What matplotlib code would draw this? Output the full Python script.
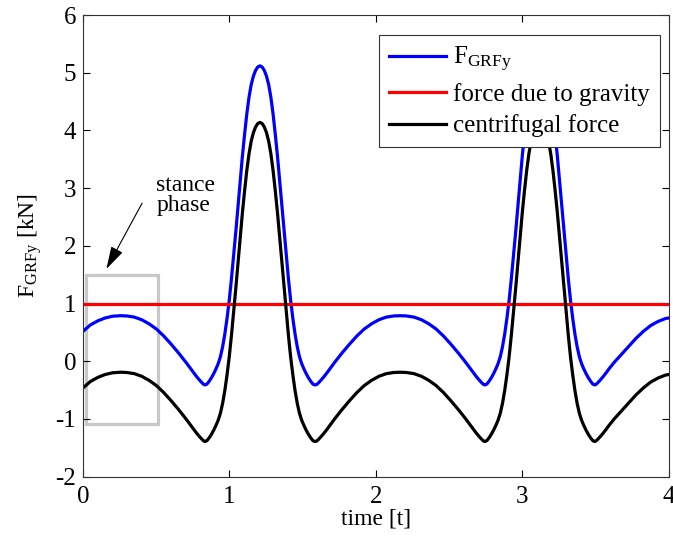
import numpy as np
import matplotlib
matplotlib.use('Agg')
import matplotlib.pyplot as plt
from matplotlib.patches import Rectangle

# values, one block per stretch of the curve
t_a = [0.00, 0.05, 0.10, 0.15, 0.20, 0.255, 0.30, 0.35, 0.40, 0.45, 0.50, 0.55, 0.60, 0.65, 0.70,
       0.735, 0.755, 0.775, 0.795, 0.815, 0.825, 0.833]
t_b = [0.841, 0.848, 0.863, 0.878, 0.893, 0.908, 0.923, 0.938, 0.953, 0.968, 0.983, 0.998, 1.013,
       1.028, 1.043, 1.058, 1.073, 1.088, 1.103, 1.118, 1.133, 1.148, 1.163, 1.178, 1.193, 1.208,
       1.223, 1.238, 1.253, 1.268, 1.283, 1.298, 1.313, 1.328, 1.343, 1.358, 1.373, 1.388, 1.403,
       1.418, 1.433, 1.448, 1.463, 1.478, 1.493, 1.508, 1.523, 1.538, 1.553, 1.568, 1.575, 1.583]
t_c = [1.596, 1.606, 1.626, 1.646, 1.666, 1.686, 1.721, 1.771, 1.821, 1.871, 1.921, 1.971, 2.021,
       2.071, 2.121, 2.166, 2.211, 2.261, 2.311, 2.361, 2.411, 2.461, 2.511, 2.561, 2.611, 2.646,
       2.666, 2.686, 2.706, 2.726, 2.736, 2.743]
t_d = [2.753, 2.760, 2.775, 2.790, 2.805, 2.820, 2.835, 2.850, 2.865, 2.880, 2.895, 2.910, 2.925,
       2.940, 2.955, 2.970, 2.985, 3.000, 3.015, 3.030, 3.045, 3.060, 3.075, 3.090, 3.105, 3.120,
       3.135, 3.150, 3.165, 3.180, 3.195, 3.210, 3.225, 3.240, 3.255, 3.270, 3.285, 3.300, 3.315,
       3.330, 3.345, 3.360, 3.375, 3.390, 3.405, 3.420, 3.435, 3.450, 3.465, 3.480, 3.487, 3.495]
t_e = [3.503, 3.513, 3.533, 3.553, 3.573, 3.593, 3.628, 3.678, 3.728, 3.778, 3.828, 3.878, 3.928,
       3.978, 4.00]

grf_a = [0.52, 0.63, 0.70, 0.75, 0.78, 0.79, 0.785, 0.765, 0.72, 0.65, 0.56, 0.44, 0.30, 0.15, -0.01,
         -0.13, -0.20, -0.265, -0.325, -0.38, -0.403, -0.41]
grf_b = [-0.403, -0.39, -0.34, -0.28, -0.21, -0.13, -0.04, 0.08, 0.25, 0.47, 0.74, 1.05, 1.42,
         1.82, 2.24, 2.68, 3.12, 3.55, 3.93, 4.28, 4.57, 4.79, 4.94, 5.04, 5.10, 5.12,
         5.10, 5.04, 4.94, 4.79, 4.57, 4.28, 3.93, 3.55, 3.12, 2.68, 2.24, 1.82, 1.42,
         1.05, 0.74, 0.47, 0.25, 0.08, -0.04, -0.13, -0.21, -0.28, -0.34, -0.39, -0.403, -0.41]
grf_c = [-0.403, -0.38, -0.325, -0.265, -0.20, -0.13, -0.01, 0.15, 0.30, 0.44, 0.56, 0.65, 0.72,
         0.765, 0.785, 0.79, 0.785, 0.765, 0.72, 0.65, 0.56, 0.44, 0.30, 0.15, -0.01, -0.13,
         -0.20, -0.265, -0.325, -0.38, -0.403, -0.41]
grf_d = [-0.403, -0.39, -0.34, -0.28, -0.21, -0.13, -0.04, 0.08, 0.25, 0.47, 0.74, 1.05, 1.42,
         1.82, 2.24, 2.68, 3.12, 3.55, 3.93, 4.28, 4.57, 4.79, 4.94, 5.04, 5.10, 5.12,
         5.10, 5.04, 4.94, 4.79, 4.57, 4.28, 3.93, 3.55, 3.12, 2.68, 2.24, 1.82, 1.42,
         1.05, 0.74, 0.47, 0.25, 0.08, -0.04, -0.13, -0.21, -0.28, -0.34, -0.39, -0.403, -0.41]
grf_e = [-0.403, -0.38, -0.325, -0.265, -0.20, -0.13, -0.02, 0.12, 0.26, 0.40, 0.52, 0.62, 0.69,
         0.74, 0.75]

cent_a = [-0.46, -0.35, -0.28, -0.23, -0.20, -0.19, -0.195, -0.215, -0.26, -0.33, -0.42, -0.54, -0.68,
          -0.83, -0.99, -1.11, -1.18, -1.245, -1.305, -1.36, -1.383, -1.39]
cent_b = [-1.383, -1.37, -1.32, -1.26, -1.19, -1.11, -1.02, -0.90, -0.73, -0.51, -0.24, 0.07, 0.44,
          0.84, 1.26, 1.70, 2.14, 2.57, 2.95, 3.30, 3.59, 3.81, 3.96, 4.06, 4.12, 4.14,
          4.12, 4.06, 3.96, 3.81, 3.59, 3.30, 2.95, 2.57, 2.14, 1.70, 1.26, 0.84, 0.44,
          0.07, -0.24, -0.51, -0.73, -0.90, -1.02, -1.11, -1.19, -1.26, -1.32, -1.37, -1.383, -1.39]
cent_c = [-1.383, -1.36, -1.305, -1.245, -1.18, -1.11, -0.99, -0.83, -0.68, -0.54, -0.42, -0.33, -0.26,
          -0.215, -0.195, -0.19, -0.195, -0.215, -0.26, -0.33, -0.42, -0.54, -0.68, -0.83, -0.99, -1.11,
          -1.18, -1.245, -1.305, -1.36, -1.383, -1.39]
cent_d = [-1.383, -1.37, -1.32, -1.26, -1.19, -1.11, -1.02, -0.90, -0.73, -0.51, -0.24, 0.07, 0.44,
          0.84, 1.26, 1.70, 2.14, 2.57, 2.95, 3.30, 3.59, 3.81, 3.96, 4.06, 4.12, 4.14,
          4.12, 4.06, 3.96, 3.81, 3.59, 3.30, 2.95, 2.57, 2.14, 1.70, 1.26, 0.84, 0.44,
          0.07, -0.24, -0.51, -0.73, -0.90, -1.02, -1.11, -1.19, -1.26, -1.32, -1.37, -1.383, -1.39]
cent_e = [-1.383, -1.36, -1.305, -1.245, -1.18, -1.11, -1.00, -0.86, -0.72, -0.58, -0.46, -0.36, -0.29,
          -0.24, -0.23]

t = t_a + t_b + t_c + t_d + t_e
F_grf = grf_a + grf_b + grf_c + grf_d + grf_e
F_cent = cent_a + cent_b + cent_c + cent_d + cent_e

gravity = 1.0

# stance phase box (time, force) and its label
stance_t = [0.02, 0.51]
stance_f = [-1.09, 1.49]

plt.rcParams['font.family'] = ['Liberation Serif', 'DejaVu Serif']
plt.rcParams['mathtext.fontset'] = 'custom'
plt.rcParams['mathtext.rm'] = 'Liberation Serif'
plt.rcParams['mathtext.it'] = 'Liberation Serif'
plt.rcParams['axes.unicode_minus'] = False

fs = 17

fig = plt.figure(figsize=(6.73, 5.38), dpi=100)
ax = fig.add_axes([0.1235, 0.114, 0.870, 0.858])

ax.plot(t, F_grf, color='#0000ff', lw=2.3, label=r'$\mathrm{F}_{\mathrm{GRFy}}$')
ax.plot([0, 4], [gravity, gravity], color='#ff0000', lw=2.3, label='force due to gravity')
ax.plot(t, F_cent, color='black', lw=2.3, label='centrifugal force')

ax.add_patch(Rectangle((stance_t[0], stance_f[0]), stance_t[1] - stance_t[0], stance_f[1] - stance_f[0],
                       fill=False, edgecolor='#c8c8c8', lw=2.3, zorder=1))
ax.text(0.5, 2.87, 'stance\nphase', fontsize=fs, ha='left', va='center', linespacing=0.95)
ax.annotate('', xy=(0.159, 1.60), xytext=(0.403, 2.74),
            arrowprops=dict(arrowstyle='-|>,head_length=1.4,head_width=0.4', color='black', lw=0.8,
                            mutation_scale=10, shrinkA=0, shrinkB=0))

ax.set_xlim(0, 4)
ax.set_ylim(-2, 6)
ax.set_xticks([0, 1, 2, 3, 4])
ax.set_yticks([-2, -1, 0, 1, 2, 3, 4, 5, 6])
ax.tick_params(direction='in', top=True, right=True, length=5, width=0.8, labelsize=18)
ax.tick_params(axis='x', pad=7)
ax.tick_params(axis='y', pad=5)
for s in ax.spines.values():
    s.set_linewidth(0.8)
    s.set_color('#333333')

ax.set_xlabel('time [t]', fontsize=fs, labelpad=0)
ax.set_ylabel(r'$\mathrm{F}_{\mathrm{GRFy}}$ [kN]', fontsize=fs, labelpad=8)

leg = ax.legend(loc='upper right', fontsize=18, frameon=True, fancybox=False, framealpha=1,
                handlelength=2.25, handletextpad=0.3, borderaxespad=0.0,
                bbox_to_anchor=(0.985, 0.957), labelspacing=0.35, borderpad=0.4)
leg.get_frame().set_edgecolor('#333333')
leg.get_frame().set_linewidth(0.8)
for line in leg.get_lines():
    line.set_linewidth(2.3)

fig.savefig('out.png', dpi=100)
